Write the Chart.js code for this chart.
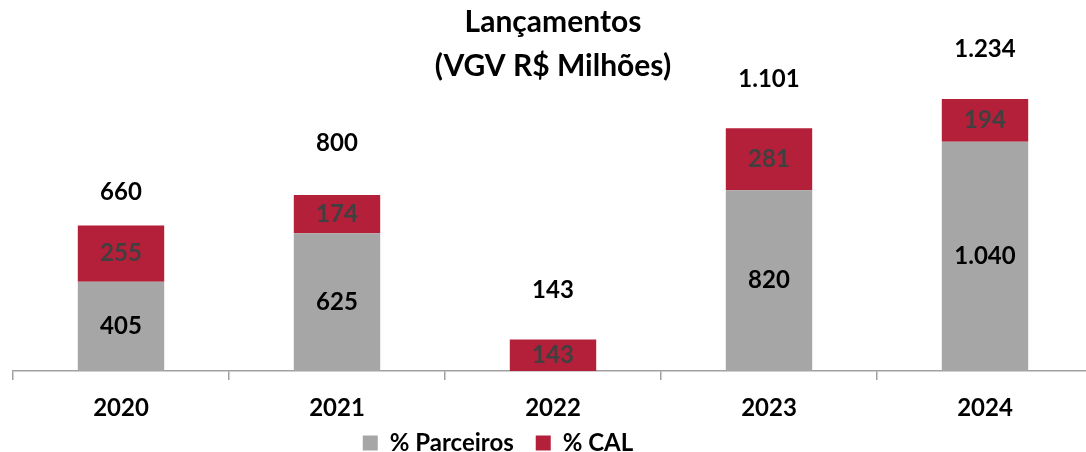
<!DOCTYPE html>
<html>
<head>
    <title>Lançamentos</title>
    <script src="https://cdn.jsdelivr.net/npm/chart.js"></script>
    <style>
        html, body { margin: 0; padding: 0; background: #fff; overflow: hidden; }
        #wrap { width: 1093px; height: 452px; }
    </style>
</head>
<body>
    <div id="wrap"><canvas id="launchChart" width="1093" height="452"></canvas></div>

    <script>
        // values (R$ milhões)
        var years = ['2020', '2021', '2022', '2023', '2024'];
        var parceiros = [405, 625, 0, 820, 1040];
        var cal = [255, 174, 143, 281, 194];
        var totals = [660, 800, 143, 1101, 1234];

        var FONT = 'Lato, "Open Sans", sans-serif';

        function fmt(v) {
            return String(v).replace(/\B(?=(\d{3})+(?!\d))/g, '.');
        }

        // draws values inside the segments and totals above the stacks
        var labelPlugin = {
            id: 'barLabels',
            afterDatasetsDraw: function(chart, args, opts) {
                var ctx = chart.ctx;
                ctx.save();
                ctx.font = 'bold 24px ' + FONT;
                ctx.textAlign = 'center';
                ctx.textBaseline = 'middle';
                chart.data.datasets.forEach(function(ds, i) {
                    var meta = chart.getDatasetMeta(i);
                    meta.data.forEach(function(bar, j) {
                        if (!ds.data[j]) return;
                        ctx.fillStyle = ds.labelColor;
                        ctx.fillText(fmt(ds.data[j]), bar.x, (bar.y + bar.base) / 2);
                    });
                });
                var top = chart.getDatasetMeta(chart.data.datasets.length - 1);
                top.data.forEach(function(bar, j) {
                    ctx.fillStyle = '#000';
                    ctx.fillText(fmt(totals[j]), bar.x, bar.y - opts.offsets[j]);
                });
                ctx.restore();
            },
            afterLayout: function(chart, args, opts) {
                // legend sits a little left of centre in the original
                var lg = chart.legend;
                lg.left += opts.legendShift[0];
                lg.right += opts.legendShift[0];
                lg.top += opts.legendShift[1];
                lg.bottom = chart.height;
            }
        };

        var ctx = document.getElementById('launchChart').getContext('2d');
        var chart = new Chart(ctx, {
            type: 'bar',
            data: {
                labels: years,
                datasets: [{
                    label: '% Parceiros',
                    data: parceiros,
                    backgroundColor: '#A6A6A6',
                    labelColor: '#000000',
                    barPercentage: 0.4,
                    categoryPercentage: 1
                }, {
                    label: '% CAL',
                    data: cal,
                    backgroundColor: '#B41F3A',
                    labelColor: '#404040',
                    barPercentage: 0.4,
                    categoryPercentage: 1
                }]
            },
            options: {
                responsive: false,
                animation: false,
                layout: { padding: { left: 13, right: 0, top: 0, bottom: 0 } },
                scales: {
                    x: {
                        stacked: true,
                        afterFit: function(scale) { scale.height = 51; },
                        grid: { drawOnChartArea: false, tickLength: 9, color: '#A0A0A0', lineWidth: 1.5 },
                        border: { color: '#A0A0A0', width: 1.5 },
                        ticks: { color: '#000', padding: 14, font: { family: FONT, size: 24, weight: 'bold' } }
                    },
                    y: {
                        stacked: true,
                        display: false,
                        min: 0,
                        max: 1284
                    }
                },
                plugins: {
                    title: {
                        display: true,
                        text: ['Lançamentos', '(VGV R$ Milhões)'],
                        color: '#000',
                        padding: { top: 0, bottom: 0 },
                        font: { family: FONT, size: 30, weight: 'bold', lineHeight: 44 / 30 }
                    },
                    legend: {
                        position: 'bottom',
                        maxHeight: 30,
                        labels: {
                            color: '#000',
                            boxWidth: 15,
                            boxHeight: 15,
                            padding: 22,
                            font: { family: FONT, size: 24, weight: 'bold' }
                        }
                    },
                    tooltip: { enabled: false },
                    barLabels: { offsets: [33, 52, 49, 49, 50], legendShift: [-55, -13] }
                }
            },
            plugins: [labelPlugin]
        });
    </script>
</body>
</html>
